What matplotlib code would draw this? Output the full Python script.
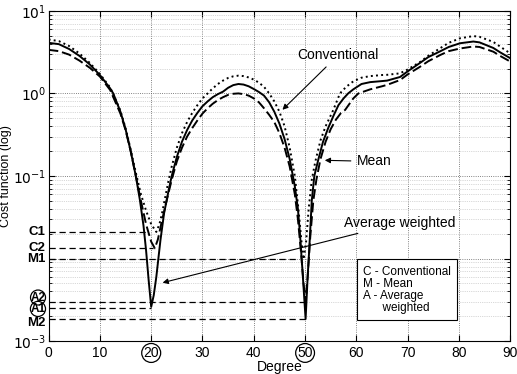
import numpy as np
import matplotlib
matplotlib.use("Agg")
import matplotlib.pyplot as plt
from matplotlib.ticker import LogLocator, NullFormatter

plt.rcParams['font.family'] = ['Liberation Sans', 'DejaVu Sans']

# curves (degree, cost)
conv_deg = [0, 2, 4, 6, 8, 10, 12, 14, 15, 16, 17, 18, 19, 20, 21, 21.6, 22.1, 23.4, 24, 25, 26, 27, 28, 29,
            30, 31, 32, 33, 34, 35, 36, 37, 38, 39, 40, 41, 42, 43, 44, 45, 46, 47, 48, 48.7, 49.3, 49.7,
            50.2, 50.7, 51.3, 52, 53, 54, 55.5, 56.8, 58, 59.4, 61, 62.7, 65, 66, 68.5, 70, 72.4, 74, 76.4,
            78, 80.2, 82.8, 84, 86.7, 88, 90]
conv_val = [4.5, 4.3, 3.75, 3.05, 2.35, 1.72, 1.18, 0.62, 0.38, 0.21, 0.11, 0.06, 0.038, 0.026, 0.021, 0.026,
            0.035, 0.089, 0.13, 0.22, 0.33, 0.45, 0.58, 0.72, 0.87, 1.0, 1.15, 1.3, 1.43, 1.54, 1.61, 1.64,
            1.62, 1.56, 1.47, 1.35, 1.2, 1.0, 0.8, 0.6, 0.4, 0.22, 0.1, 0.04, 0.016, 0.0098, 0.016, 0.04,
            0.09, 0.15, 0.27, 0.4, 0.63, 1.0, 1.2, 1.4, 1.55, 1.62, 1.67, 1.68, 1.75, 1.95, 2.4, 2.85, 3.55,
            4.1, 4.65, 4.95, 4.85, 4.2, 3.7, 3.05]

mean_deg = [0, 2, 4, 6, 8, 10, 12, 12.6, 14, 15, 16, 17, 17.8, 18.5, 19, 19.5, 20, 20.5, 21, 21.8, 22.5,
            23.4, 24, 25, 26, 27, 28, 29, 30, 31, 32, 33, 34, 35, 36, 37, 38, 39, 40, 41, 42, 43, 44, 45,
            46, 47, 48, 48.6, 49, 49.5, 50.1, 50.5, 50.8, 51.3, 51.8, 52.6, 53.5, 54.5, 55.5, 56.5, 57.5,
            58.4, 59.4, 61, 62.7, 65, 66, 68.5, 70, 72.4, 74, 76.4, 78, 80.2, 82.8, 84, 86.7, 88, 90]
mean_val = [4.1, 3.95, 3.45, 2.85, 2.25, 1.67, 1.15, 1.0, 0.6, 0.37, 0.2, 0.1, 0.051, 0.025, 0.0126, 0.0055,
            0.0026, 0.0036, 0.006, 0.0166, 0.035, 0.067, 0.1, 0.17, 0.26, 0.36, 0.47, 0.58, 0.7, 0.8, 0.9,
            0.98, 1.05, 1.17, 1.26, 1.3, 1.28, 1.22, 1.13, 1.04, 0.94, 0.78, 0.6, 0.43, 0.28, 0.16, 0.075,
            0.04, 0.02, 0.007, 0.00185, 0.006, 0.0126, 0.05, 0.1, 0.16, 0.26, 0.38, 0.53, 0.72, 0.87, 1.0,
            1.12, 1.3, 1.37, 1.41, 1.43, 1.58, 1.85, 2.34, 2.75, 3.25, 3.65, 4.05, 4.25, 4.15, 3.55, 3.15,
            2.67]

avg_deg = [0, 2, 4, 6, 8, 10, 12, 14, 15, 16, 17, 18, 19, 20, 20.7, 21.3, 22, 23, 24, 25, 26, 27, 28, 29,
           30, 31, 32, 33, 34, 35, 36, 37, 38, 39, 40, 41, 42, 43, 44, 45, 46, 47, 48, 48.6, 49.2, 49.7,
           50.1, 50.5, 51, 51.6, 52.2, 53, 54, 55, 56, 57, 57.8, 59.4, 60.4, 62.7, 65, 66, 68.5, 70, 72.4,
           74, 76.4, 78, 80.2, 82.8, 84, 86.7, 88, 90]
avg_val = [3.37, 3.25, 2.95, 2.5, 2.05, 1.6, 1.1, 0.57, 0.36, 0.2, 0.1, 0.05, 0.026, 0.016, 0.0133, 0.017,
           0.027, 0.05, 0.09, 0.15, 0.22, 0.3, 0.38, 0.47, 0.57, 0.66, 0.75, 0.83, 0.9, 0.96, 0.99, 1.0,
           0.98, 0.94, 0.87, 0.78, 0.66, 0.55, 0.45, 0.33, 0.22, 0.13, 0.06, 0.03, 0.012, 0.005, 0.003,
           0.006, 0.018, 0.05, 0.09, 0.16, 0.26, 0.37, 0.48, 0.58, 0.63, 0.87, 1.0, 1.12, 1.22, 1.27, 1.45,
           1.7, 2.1, 2.45, 2.93, 3.25, 3.5, 3.7, 3.65, 3.2, 2.85, 2.43]

# minimum levels marked on the left axis
level_names = ['C1', 'C2', 'M1', 'A2', 'A1', 'M2']
level_vals = [0.021, 0.0133, 0.0098, 0.003, 0.0025, 0.00185]
level_ends = [19.3, 20.4, 48.4, 50.1, 19.9, 50.1]

x_ticks = [0, 10, 20, 30, 40, 50, 60, 70, 80, 90]
y_ticks = [1e-3, 1e-2, 1e-1, 1e0, 1e1]
y_ticklabels = ['$10^{-3}$', '', '$10^{-1}$', '$10^{0}$', '$10^{1}$']

fig = plt.figure(figsize=(5.17, 3.74), dpi=100)
ax = fig.add_axes([0.094, 0.088, 0.893, 0.883])

ax.plot(conv_deg, conv_val, color='k', ls=':', lw=1.4)
ax.plot(mean_deg, mean_val, color='k', ls='-', lw=1.4)
ax.plot(avg_deg, avg_val, color='k', ls=(0, (5, 2)), lw=1.4)

for v, end in zip(level_vals, level_ends):
    ax.plot([0, end], [v, v], color='k', ls=(0, (5, 3)), lw=0.9)

ax.set_yscale('log')
ax.set_xlim(0, 90)
ax.set_ylim(1e-3, 1e1)
ax.set_xticks(x_ticks)
ax.set_yticks(y_ticks)
ax.set_yticklabels(y_ticklabels)
ax.yaxis.set_minor_locator(LogLocator(base=10, subs=np.arange(2, 10)))
ax.yaxis.set_minor_formatter(NullFormatter())
ax.tick_params(which='both', direction='in', top=True, right=True, labelsize=10)
ax.tick_params(which='major', length=4)
ax.tick_params(which='minor', length=2)
ax.tick_params(axis='y', pad=2)
ax.grid(True, which='major', ls=':', color='0.35', lw=0.6)
ax.grid(True, which='minor', axis='y', ls=':', color='0.7', lw=0.5)

for lbl in ax.get_xticklabels():
    if lbl.get_text() in ('20', '50'):
        lbl.set_bbox(dict(boxstyle='circle,pad=0.12', fc='none', ec='k', lw=0.9))

# level labels left of the axis (the crowded ones nudged apart a little)
nudge = {'A2': 3, 'A1': -0.5, 'M2': -3}
for name, v in zip(level_names, level_vals):
    t = ax.annotate(name, xy=(-0.6, v), xytext=(0, nudge.get(name, 0)), textcoords='offset points',
                    ha='right', va='center', fontsize=9.5, fontweight='bold', annotation_clip=False)
    if name in ('A1', 'A2'):
        t.set_fontsize(8.5)
        t.set_bbox(dict(boxstyle='circle,pad=0.0', fc='none', ec='k', lw=0.9))

ax.set_xlabel('Degree', fontsize=10, labelpad=0)
ax.set_ylabel('Cost function (log)', fontsize=9)
ax.yaxis.set_label_coords(-0.079, 0.5)

arrow = dict(arrowstyle='-|>', color='k', lw=0.8, mutation_scale=8)
ax.annotate('Conventional', xy=(45.2, 0.6), xytext=(48.5, 2.9), fontsize=10,
            ha='left', va='center', arrowprops=arrow)
ax.annotate('Mean', xy=(53.3, 0.155), xytext=(60, 0.15), fontsize=10,
            ha='left', va='center', arrowprops=arrow)
ax.annotate('Average weighted', xy=(21.7, 0.005), xytext=(57.5, 0.027), fontsize=10,
            ha='left', va='center', arrowprops=arrow)

ax.text(61.3, 0.0042, 'C - Conventional\nM - Mean\nA - Average\n      weighted', fontsize=8.5,
        ha='left', va='center', linespacing=1.0,
        bbox=dict(boxstyle='square,pad=0.55', fc='white', ec='k', lw=0.8))

fig.savefig('out.png', dpi=100)
